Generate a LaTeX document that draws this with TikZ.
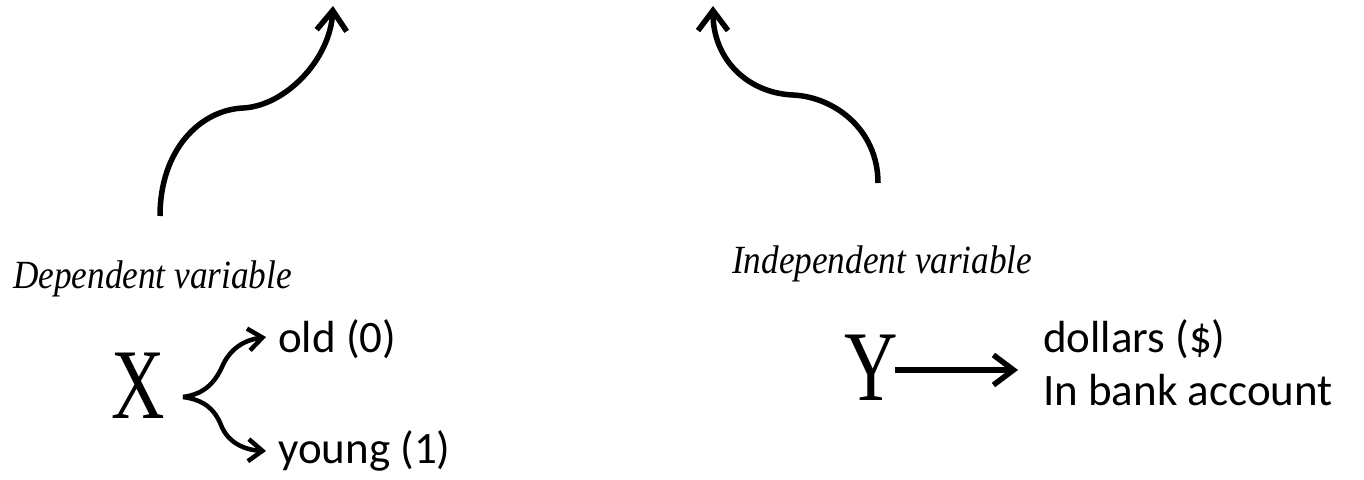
\documentclass[tikz,border=0pt]{standalone}
\usepackage{fontspec}
\newfontfamily\carlfont{Carlito}
\newfontfamily\labfont{Liberation Serif}
\usetikzlibrary{arrows.meta}
\begin{document}
\begin{tikzpicture}[x=1pt,y=-1pt,
  big/.style={line width=5.5pt,-{Straight Barb[length=20pt,width=30pt]}},
  br/.style={line width=4.5pt,-{Straight Barb[length=14pt,width=22pt]}},
  lab/.style={inner sep=0pt,anchor=base west,font=\labfont\itshape\fontsize{40}{44}\selectfont},
  txt/.style={inner sep=0pt,anchor=base west,font=\carlfont\fontsize{45}{53}\selectfont},
  var/.style={inner sep=0pt,anchor=base,font=\labfont\fontsize{100}{100}\selectfont}]
\useasboundingbox (0,0) rectangle (1364,479);
\node[lab] (dep) at (13,288) {\scalebox{0.88}[1]{Dependent variable}};
\node[lab] (indep) at (732,273) {\scalebox{0.88}[1]{Independent variable}};
\node[var] (X) at (138.5,418) {\scalebox{0.74}[1]{X}};
\node[var] (Y) at (871.5,400) {\scalebox{0.74}[1]{Y}};
\node[txt] (old) at (278,352) {old (0)};
\node[txt] (young) at (278,463) {young (1)};
\node[txt,align=left] (dol) at (1043,405) {dollars (\$)\\In bank account};
\coordinate (a1s) at (160,216);
\coordinate (a1e) at (333,6);
\coordinate (a2s) at (878,183);
\coordinate (a2e) at (713,6);
\draw[big] (a1s) .. controls (160,150) and (200,110) .. (243,108)
  .. controls (285,106) and (330,60) .. (a1e);
\draw[big] (a2s) .. controls (878,130) and (835,97) .. (793,95)
  .. controls (748,93) and (713,60) .. (a2e);
\coordinate (fork) at (183,397);
\coordinate (ot) at (266,337);
\coordinate (yt) at (266,451);
\draw[br] (fork) .. controls (205,394) and (215,382) .. (222,367)
  .. controls (230,348) and (245,340) .. (ot);
\draw[br] (fork) .. controls (205,400) and (215,410) .. (221,425)
  .. controls (228,443) and (245,450) .. (yt);
\draw[big] ([xshift=-3pt]Y.east |- 0,370) -- ([xshift=-25pt]dol.west |- 0,370);
\end{tikzpicture}
\end{document}
